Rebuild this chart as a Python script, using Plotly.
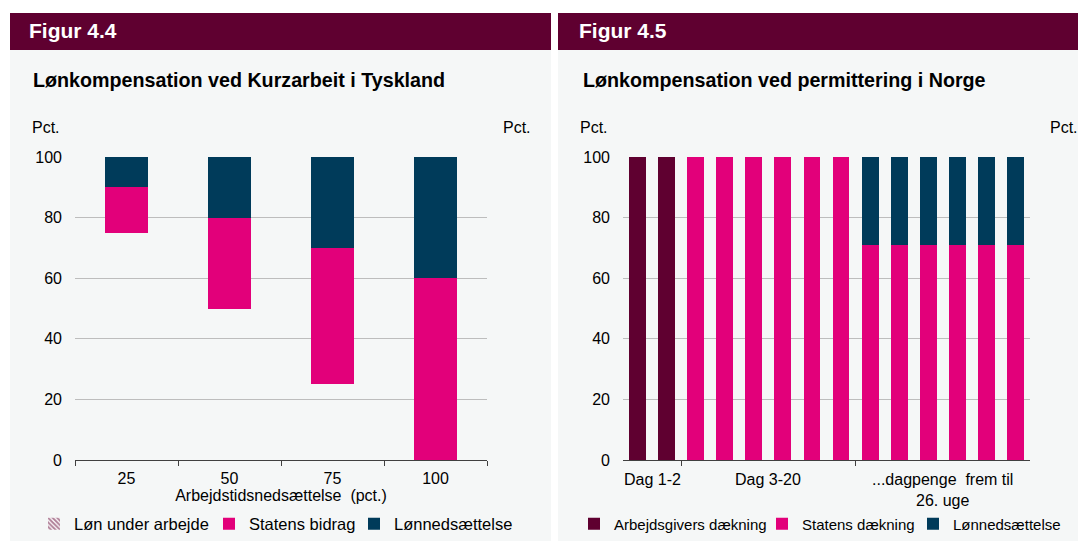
import plotly.graph_objects as go

W, H = 1086, 541
OFF = 8  # page body margin in the browser

# ---------------- data ----------------
left_categories = ["25", "50", "75", "100"]
loen_under_arbejde = [75, 50, 25, 0]
statens_bidrag = [15, 30, 45, 60]
loennedsaettelse_de = [10, 20, 30, 40]

right_positions = list(range(14))
arbejdsgivers_daekning = [100, 100, 0, 0, 0, 0, 0, 0, 0, 0, 0, 0, 0, 0]
statens_daekning = [0, 0, 100, 100, 100, 100, 100, 100, 71, 71, 71, 71, 71, 71]
loennedsaettelse_no = [0, 0, 0, 0, 0, 0, 0, 0, 29, 29, 29, 29, 29, 29]
right_groups = ["Dag 1-2", "Dag 3-20", "...dagpenge  frem til<br>26. uge"]
right_group_centers = [0.5, 4.5, 10.5]
right_group_bounds = [1.5, 7.5]

y_ticks = [0, 20, 40, 60, 80, 100]

# ---------------- style ----------------
MAROON = "#5f0030"
PINK = "#e2007a"
NAVY = "#003b5a"
BG = "#f5f7f7"
FONT = "Liberation Sans, Arial, sans-serif"
TXT = "#000000"


def px(x):
    return (x - OFF) / W


def py(y):
    return (H - (y - OFF)) / H


fig = go.Figure()

# left chart
fig.add_trace(go.Bar(x=left_categories, y=loen_under_arbejde, name="Løn under arbejde",
                     marker=dict(color="rgba(0,0,0,0)", line=dict(width=0)),
                     showlegend=False, hoverinfo="skip", xaxis="x", yaxis="y", width=0.41))
fig.add_trace(go.Bar(x=[None], y=[None], name="Løn under arbejde",
                     marker=dict(color="white", pattern=dict(shape="\\", fgcolor=MAROON, bgcolor="white",
                                                            size=4, solidity=0.6), line=dict(width=0)),
                     xaxis="x", yaxis="y", legend="legend"))
fig.add_trace(go.Bar(x=left_categories, y=statens_bidrag, name="Statens bidrag",
                     marker=dict(color=PINK, line=dict(width=0)), xaxis="x", yaxis="y",
                     width=0.41, legend="legend2"))
fig.add_trace(go.Bar(x=left_categories, y=loennedsaettelse_de, name="Lønnedsættelse",
                     marker=dict(color=NAVY, line=dict(width=0)), xaxis="x", yaxis="y",
                     width=0.41, legend="legend3"))

# right chart
fig.add_trace(go.Bar(x=right_positions, y=arbejdsgivers_daekning, name="Arbejdsgivers dækning",
                     marker=dict(color=MAROON, line=dict(width=0)), xaxis="x2", yaxis="y2",
                     width=0.58, legend="legend4"))
fig.add_trace(go.Bar(x=right_positions, y=statens_daekning, name="Statens dækning",
                     marker=dict(color=PINK, line=dict(width=0)), xaxis="x2", yaxis="y2",
                     width=0.58, legend="legend5"))
fig.add_trace(go.Bar(x=right_positions, y=loennedsaettelse_no, name="Lønnedsættelse",
                     marker=dict(color=NAVY, line=dict(width=0)), xaxis="x2", yaxis="y2",
                     width=0.58, legend="legend6"))

tickfont = dict(family=FONT, size=16, color=TXT)

yaxis_common = dict(range=[0, 100], tickvals=y_ticks, ticks="", showline=False,
                    zeroline=False, tickfont=tickfont, fixedrange=True)

fig.update_layout(
    width=W, height=H,
    margin=dict(l=0, r=0, t=0, b=0, autoexpand=False),
    paper_bgcolor="white", plot_bgcolor="rgba(0,0,0,0)",
    barmode="stack", bargap=0,
    font=dict(family=FONT, size=16, color=TXT),
    xaxis=dict(domain=[px(75), px(487)], type="category", showline=True, linecolor="#404040",
               linewidth=1, ticks="outside", ticklen=5, tickcolor="#404040", tickson="boundaries",
               showgrid=False, tickfont=tickfont, anchor="y", ticklabelstandoff=4,
               title=dict(text="Arbejdstidsnedsættelse  (pct.)", font=tickfont, standoff=1)),
    yaxis=dict(domain=[py(460), py(157)], anchor="x", showgrid=True, gridcolor="#bdbdbd",
               gridwidth=1, ticklabelstandoff=12, **yaxis_common),
    yaxis3=dict(overlaying="y", side="right", anchor="x", showgrid=False,
                ticklabelstandoff=14, **yaxis_common),
    xaxis2=dict(domain=[px(623), px(1030)], range=[-0.5, 13.5], showline=True,
                linecolor="#404040", linewidth=1, ticks="outside", ticklen=5,
                tickcolor="#404040", tickvals=right_group_bounds, ticktext=["", ""],
                showgrid=False, anchor="y2", zeroline=False),
    yaxis2=dict(domain=[py(460), py(157)], anchor="x2", showgrid=True, gridcolor="#bdbdbd",
                gridwidth=1, ticklabelstandoff=12, **yaxis_common),
    yaxis4=dict(overlaying="y2", side="right", anchor="x2", showgrid=False,
                ticklabelstandoff=16, **yaxis_common),
)

legend_common = dict(orientation="h", yanchor="middle", xanchor="left", bgcolor="rgba(0,0,0,0)",
                     itemwidth=30, traceorder="normal", xref="container", yref="container")
font_left = dict(family=FONT, size=16.5, color=TXT)
font_right = dict(family=FONT, size=15, color=TXT)
leg_y = py(524)
fig.update_layout(
    legend=dict(x=px(72 - 38), y=leg_y, font=font_left, **legend_common),
    legend2=dict(x=px(247 - 38), y=leg_y, font=font_left, **legend_common),
    legend3=dict(x=px(392 - 38), y=leg_y, font=font_left, **legend_common),
    legend4=dict(x=px(612 - 38), y=leg_y, font=font_right, **legend_common),
    legend5=dict(x=px(800 - 38), y=leg_y, font=font_right, **legend_common),
    legend6=dict(x=px(951 - 38), y=leg_y, font=font_right, **legend_common),
)

shapes = []
for x0, x1 in [(10, 551), (558, 1100)]:
    shapes.append(dict(type="rect", xref="paper", yref="paper", x0=px(x0), x1=px(x1),
                       y0=py(560), y1=py(50), fillcolor=BG, line=dict(width=0), layer="below"))
    shapes.append(dict(type="rect", xref="paper", yref="paper", x0=px(x0), x1=px(x1),
                       y0=py(50), y1=py(13), fillcolor=MAROON, line=dict(width=0), layer="below"))
fig.update_layout(shapes=shapes)

ann = []
ann.append(dict(text="<b>Figur 4.4</b>", x=px(27), y=py(31), xref="paper", yref="paper",
                xanchor="left", yanchor="middle", showarrow=False,
                font=dict(family=FONT, size=21, color="white")))
ann.append(dict(text="<b>Figur 4.5</b>", x=px(577), y=py(31), xref="paper", yref="paper",
                xanchor="left", yanchor="middle", showarrow=False,
                font=dict(family=FONT, size=21, color="white")))
ann.append(dict(text="<b>Lønkompensation ved Kurzarbeit i Tyskland</b>", x=px(31), y=py(80),
                xref="paper", yref="paper", xanchor="left", yanchor="middle", showarrow=False,
                font=dict(family=FONT, size=19.7, color=TXT)))
ann.append(dict(text="<b>Lønkompensation ved permittering i Norge</b>", x=px(581), y=py(80),
                xref="paper", yref="paper", xanchor="left", yanchor="middle", showarrow=False,
                font=dict(family=FONT, size=19.7, color=TXT)))
for x, anchor in [(62, "right"), (501, "left"), (610, "right"), (1048, "left")]:
    ann.append(dict(text="Pct.", x=px(x), y=py(127), xref="paper", yref="paper",
                    xanchor=anchor, yanchor="middle", showarrow=False, font=tickfont))
for label, cx in zip(right_groups, right_group_centers):
    ann.append(dict(text=label, x=cx, xref="x2", y=py(469), yref="paper", xanchor="center",
                    yanchor="top", showarrow=False, font=tickfont, align="center"))
fig.update_layout(annotations=ann)

fig.write_html("out.html")
